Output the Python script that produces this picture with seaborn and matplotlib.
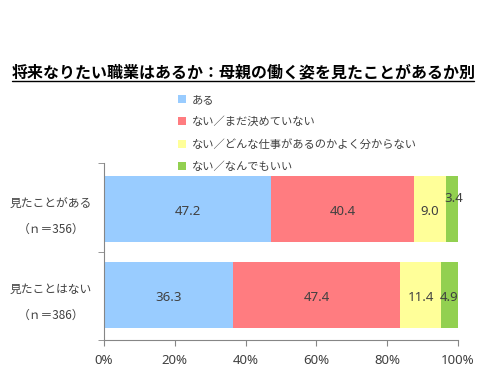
import matplotlib
matplotlib.use("Agg")
import matplotlib.pyplot as plt
import seaborn as sns
import pandas as pd
import numpy as np
from matplotlib.patches import Patch
from matplotlib.lines import Line2D

categories = ["見たことがある\n（ｎ＝356）", "見たことはない\n（ｎ＝386）"]
series_names = ["ある", "ない／まだ決めていない", "ない／どんな仕事があるのかよく分からない", "ない／なんでもいい"]
aru = [47.2, 36.3]
mada = [40.4, 47.4]
wakaranai = [9.0, 11.4]
nandemo = [3.4, 4.9]
colors = ["#99CCFF", "#FF7C80", "#FFFF99", "#92D050"]
xticks = [0, 20, 40, 60, 80, 100]
xticklabels = ["0%", "20%", "40%", "60%", "80%", "100%"]

sns.set_style("white")
plt.rcParams['font.family'] = ['Noto Sans CJK JP', 'DejaVu Sans']

series = [aru, mada, wakaranai, nandemo]
cum = np.cumsum(np.array(series), axis=0)

fig = plt.figure(figsize=(4.89, 3.80), dpi=100)
ax = fig.add_axes([104/489, 1-340/380, 354/489, 177/380])

# draw cumulative bars from the outermost segment inward
for i in range(len(series) - 1, -1, -1):
    df = pd.DataFrame({"cat": categories, "val": cum[i]})
    sns.barplot(data=df, x="val", y="cat", orient="h", color=colors[i],
                width=0.77, ax=ax, saturation=1, linewidth=0)

# data labels
for j in range(len(categories)):
    for i in range(len(series)):
        start = cum[i][j] - series[i][j]
        center = start + series[i][j] / 2
        dy = 0.03
        dx = 0
        if i == 3 and j == 0:
            dy = -0.12
            dx = 0.6
        ax.text(center + dx, j + dy, f"{series[i][j]:.1f}", ha="center", va="center",
                fontsize=9.5, color="#404040", family=['Noto Sans', 'DejaVu Sans'])

ax.set_xlim(0, 100)
ax.set_ylim(1.53, -0.535)
ax.set_xticks(xticks)
ax.set_xticklabels(xticklabels, fontsize=9.5, color="#404040",
                   family=['Noto Sans', 'DejaVu Sans'])
ax.set_yticks([0, 1])
ax.set_yticklabels(categories, fontsize=8.5, color="#404040",
                   multialignment="center", linespacing=2.3)
ax.set_xlabel("")
ax.set_ylabel("")
for s in ["top", "right"]:
    ax.spines[s].set_visible(False)
for s in ["left", "bottom"]:
    ax.spines[s].set_color("#868686")
    ax.spines[s].set_linewidth(0.8)
ax.tick_params(axis="x", bottom=True, length=4, color="#868686", pad=6)
ax.tick_params(axis="y", left=False, pad=5)
# category boundary ticks on the y-axis
ax.set_yticks([-0.535, 0.5, 1.53], minor=True)
ax.tick_params(axis="y", which="minor", left=True, length=4, color="#868686")

# title with underline
fig.text(12/489, 1-72/380, "将来なりたい職業はあるか：母親の働く姿を見たことがあるか別",
         fontsize=11.5, fontweight="bold", color="#000000", va="center", ha="left")
fig.add_artist(Line2D([12/489, 474/489], [1-81/380, 1-81/380], color="black",
                      linewidth=1.0, transform=fig.transFigure))

handles = [Patch(facecolor=c, edgecolor="none") for c in colors]
fig.legend(handles, series_names, loc="upper left",
           bbox_to_anchor=(178/489, 1-95/380), frameon=False, fontsize=8.1,
           handlelength=0.7, handleheight=0.7, handletextpad=0.5,
           labelspacing=1.02, labelcolor="#404040", borderaxespad=0, borderpad=0)

fig.savefig("out.png", dpi=100)
